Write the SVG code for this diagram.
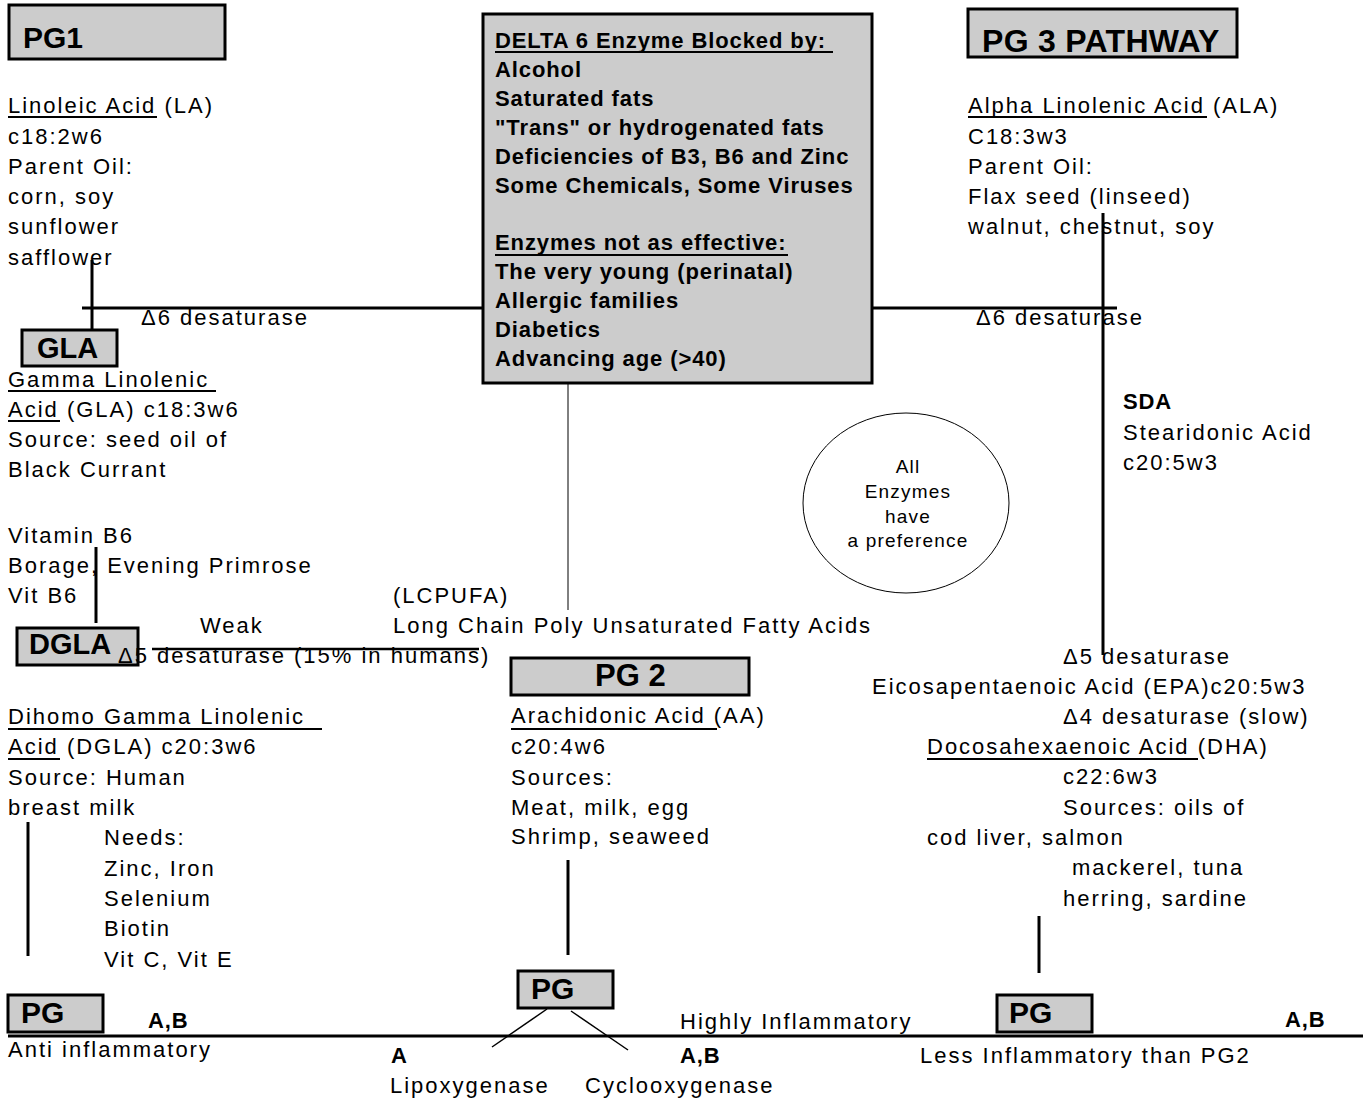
<svg xmlns="http://www.w3.org/2000/svg" width="1366" height="1102" viewBox="0 0 1366 1102">
<style>
text{font-family:"Liberation Sans",Arial,sans-serif;fill:#000}
.t{font-size:22px;letter-spacing:2px}
.b{font-size:22px;font-weight:bold;letter-spacing:0.9px}
.h{font-weight:bold;font-size:32px}
.box{fill:#cccccc;stroke:#000;stroke-width:3}
.c{stroke:#000;stroke-width:3;fill:none}
.thin{stroke:#000;stroke-width:1;fill:none}
.diag{stroke:#000;stroke-width:1.5;fill:none}
.u{stroke:#000;stroke-width:2}
.ci{font-size:19px;letter-spacing:1.2px;text-anchor:middle}
</style>
<rect width="1366" height="1102" fill="#fff"/>

<g id="connectors">
<line class="c" x1="82" y1="308" x2="483" y2="308"/>
<line class="c" x1="872" y1="308" x2="1117" y2="308"/>
<line class="c" x1="92" y1="260" x2="92" y2="330"/>
<line class="c" x1="1103" y1="213" x2="1103" y2="655"/>
<line class="thin" x1="568" y1="383" x2="568" y2="610"/>
<line class="c" x1="96" y1="547" x2="96" y2="623"/>
<line class="c" x1="152" y1="649" x2="479" y2="649" style="stroke-width:2.5"/>
<line class="c" x1="28" y1="822" x2="28" y2="956"/>
<line class="c" x1="568" y1="860" x2="568" y2="955"/>
<line class="diag" x1="547" y1="1009" x2="492" y2="1047"/>
<line class="diag" x1="571" y1="1011" x2="628" y2="1050"/>
<line class="c" x1="1039" y1="916" x2="1039" y2="973"/>
<line class="c" x1="8" y1="1036" x2="1363" y2="1036"/>
</g>

<g id="pg1">
<rect class="box" x="9" y="5" width="216" height="54"/>
<text class="h" x="23" y="48" style="font-size:30px">PG1</text>
</g>

<g id="la">
<text class="t" x="8" y="113">Linoleic Acid (LA)</text>
<line class="u" x1="8" y1="117" x2="157" y2="117"/>
<text class="t" x="8" y="144">c18:2w6</text>
<text class="t" x="8" y="174">Parent Oil:</text>
<text class="t" x="8" y="204">corn, soy</text>
<text class="t" x="8" y="234">sunflower</text>
<text class="t" x="8" y="265">safflower</text>
</g>

<g id="delta6-box">
<rect class="box" x="483" y="14" width="389" height="369"/>
<text class="b" x="495" y="48">DELTA 6 Enzyme Blocked by:</text>
<line class="u" x1="495" y1="52" x2="833" y2="52"/>
<text class="b" x="495" y="77">Alcohol</text>
<text class="b" x="495" y="106">Saturated fats</text>
<text class="b" x="495" y="135">"Trans" or hydrogenated fats</text>
<text class="b" x="495" y="164">Deficiencies of B3, B6 and Zinc</text>
<text class="b" x="495" y="193">Some Chemicals, Some Viruses</text>
<text class="b" x="495" y="250">Enzymes not as effective:</text>
<line class="u" x1="495" y1="255" x2="788" y2="255"/>
<text class="b" x="495" y="279">The very young (perinatal)</text>
<text class="b" x="495" y="308">Allergic families</text>
<text class="b" x="495" y="337">Diabetics</text>
<text class="b" x="495" y="366">Advancing age (&gt;40)</text>
</g>

<g id="pg3">
<rect class="box" x="968" y="9" width="269" height="48"/>
<text class="h" x="982" y="52" style="letter-spacing:0.3px">PG 3 PATHWAY</text>
</g>

<g id="ala">
<text class="t" x="968" y="113">Alpha Linolenic Acid (ALA)</text>
<line class="u" x1="968" y1="117" x2="1207" y2="117"/>
<text class="t" x="968" y="144">C18:3w3</text>
<text class="t" x="968" y="174">Parent Oil:</text>
<text class="t" x="968" y="204">Flax seed (linseed)</text>
<text class="t" x="968" y="234">walnut, chestnut, soy</text>
</g>

<g id="d6-left"><text class="t" x="141" y="325">Δ6 desaturase</text></g>
<g id="d6-right"><text class="t" x="976" y="325">Δ6 desaturase</text></g>

<g id="gla">
<rect class="box" x="22" y="330" width="95" height="36"/>
<text class="h" x="37" y="358" style="font-size:29px">GLA</text>
<text class="t" x="8" y="387">Gamma Linolenic</text>
<line class="u" x1="8" y1="391" x2="216" y2="391"/>
<text class="t" x="8" y="417">Acid (GLA) c18:3w6</text>
<line class="u" x1="8" y1="421" x2="60" y2="421"/>
<text class="t" x="8" y="447">Source: seed oil of</text>
<text class="t" x="8" y="477">Black Currant</text>
</g>

<g id="b6">
<text class="t" x="8" y="543">Vitamin B6</text>
<text class="t" x="8" y="573">Borage, Evening Primrose</text>
<text class="t" x="8" y="603">Vit B6</text>
</g>

<g id="weak"><text class="t" x="200" y="633">Weak</text></g>

<g id="lcpufa">
<text class="t" x="393" y="603">(LCPUFA)</text>
<text class="t" x="393" y="633">Long Chain Poly Unsaturated Fatty Acids</text>
</g>

<g id="preference">
<ellipse cx="906" cy="503" rx="103" ry="90" fill="none" stroke="#000" stroke-width="1"/>
<text class="ci" x="908" y="473">All</text>
<text class="ci" x="908" y="498">Enzymes</text>
<text class="ci" x="908" y="523">have</text>
<text class="ci" x="908" y="547">a preference</text>
</g>

<g id="sda">
<text class="b" x="1123" y="409">SDA</text>
<text class="t" x="1123" y="440">Stearidonic Acid</text>
<text class="t" x="1123" y="470">c20:5w3</text>
</g>

<g id="dgla">
<rect class="box" x="17" y="628" width="121" height="37"/>
<text class="h" x="29" y="654" style="font-size:29px">DGLA</text>
</g>

<g id="d5-left"><text class="t" x="118" y="663">Δ5 desaturase (15% in humans)</text></g>

<g id="epa-dha">
<text class="t" x="1063" y="664">Δ5 desaturase</text>
<text class="t" x="872" y="694">Eicosapentaenoic Acid (EPA)c20:5w3</text>
<text class="t" x="1063" y="724">Δ4 desaturase (slow)</text>
<text class="t" x="927" y="754">Docosahexaenoic Acid (DHA)</text>
<line class="u" x1="927" y1="759" x2="1198" y2="759"/>
<text class="t" x="1063" y="784">c22:6w3</text>
<text class="t" x="1063" y="815">Sources: oils of</text>
<text class="t" x="927" y="845">cod liver, salmon</text>
<text class="t" x="1072" y="875">mackerel, tuna</text>
<text class="t" x="1063" y="906">herring, sardine</text>
</g>

<g id="pg2">
<rect class="box" x="511" y="658" width="238" height="37"/>
<text class="h" x="595" y="686" style="font-size:31px">PG 2</text>
</g>

<g id="aa">
<text class="t" x="511" y="723">Arachidonic Acid (AA)</text>
<line class="u" x1="511" y1="729" x2="717" y2="729"/>
<text class="t" x="511" y="754">c20:4w6</text>
<text class="t" x="511" y="785">Sources:</text>
<text class="t" x="511" y="815">Meat, milk, egg</text>
<text class="t" x="511" y="844">Shrimp, seaweed</text>
</g>

<g id="dgla-text">
<text class="t" x="8" y="724">Dihomo Gamma Linolenic</text>
<line class="u" x1="8" y1="729" x2="322" y2="729"/>
<text class="t" x="8" y="754">Acid (DGLA) c20:3w6</text>
<line class="u" x1="8" y1="759" x2="60" y2="759"/>
<text class="t" x="8" y="785">Source: Human</text>
<text class="t" x="8" y="815">breast milk</text>
<text class="t" x="104" y="845">Needs:</text>
<text class="t" x="104" y="876">Zinc, Iron</text>
<text class="t" x="104" y="906">Selenium</text>
<text class="t" x="104" y="936">Biotin</text>
<text class="t" x="104" y="967">Vit C, Vit E</text>
</g>

<g id="pg-left">
<rect class="box" x="8" y="995" width="95" height="37"/>
<text class="h" x="21" y="1023" style="font-size:30px">PG</text>
<text class="b" x="148" y="1028">A,B</text>
<text class="t" x="8" y="1057">Anti inflammatory</text>
</g>

<g id="pg-middle">
<rect class="box" x="518" y="971" width="95" height="37"/>
<text class="h" x="531" y="999" style="font-size:30px">PG</text>
<text class="b" x="391" y="1063">A</text>
<text class="t" x="390" y="1093">Lipoxygenase</text>
<text class="t" x="585" y="1093">Cyclooxygenase</text>
<text class="t" x="680" y="1029">Highly Inflammatory</text>
<text class="b" x="680" y="1063">A,B</text>
</g>

<g id="pg-right">
<rect class="box" x="997" y="995" width="95" height="37"/>
<text class="h" x="1009" y="1023" style="font-size:30px">PG</text>
<text class="b" x="1285" y="1027">A,B</text>
<text class="t" x="920" y="1063">Less Inflammatory than PG2</text>
</g>
</svg>
